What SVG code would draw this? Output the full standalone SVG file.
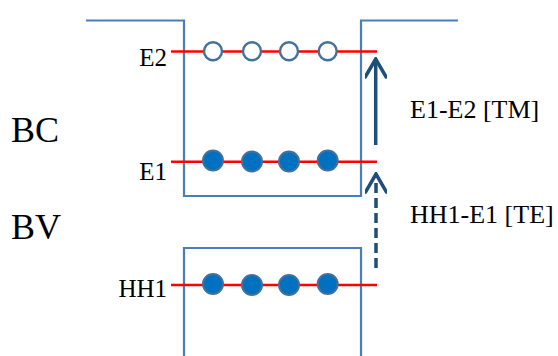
<svg xmlns="http://www.w3.org/2000/svg" width="558" height="356" viewBox="0 0 558 356">
<style>
.band{fill:none;stroke:#4a7ebb;stroke-width:2.2}
.lvl{stroke:#ff0000;stroke-width:2.6}
.open{fill:#ffffff;stroke:#41719c;stroke-width:2.4}
.full{fill:#0070c0;stroke:#41719c;stroke-width:2}
.t{font-family:"Liberation Serif","Times New Roman",serif;fill:#000}
.arr{stroke:#1f4e79;stroke-width:3.5;fill:none}
</style>
<defs>
<marker id="ah" viewBox="0 0 22 22" refX="20" refY="11" markerWidth="22" markerHeight="22" markerUnits="userSpaceOnUse" orient="auto">
<path d="M2,0.5 L20,11 L2,21.5" fill="none" stroke="#1f4e79" stroke-width="3.5" stroke-linecap="round" stroke-linejoin="miter"/>
</marker>
</defs>
<g id="bands">
<path class="band" d="M86,20.5 H184 V196 H361 V20.5 H458"/>
<path class="band" d="M184,356 V248 H361 V356"/>
</g>
<g id="E2">
<line class="lvl" x1="171" y1="51.5" x2="377" y2="51.5"/>
<circle class="open" cx="213" cy="51.3" r="9"/>
<circle class="open" cx="252" cy="51.3" r="9"/>
<circle class="open" cx="289" cy="51.3" r="9"/>
<circle class="open" cx="327.7" cy="51.3" r="9"/>
<text class="t" x="167" y="66" font-size="25" text-anchor="end">E2</text>
</g>
<g id="E1">
<line class="lvl" x1="171" y1="161.7" x2="377" y2="161.7"/>
<circle class="full" cx="213" cy="160.5" r="10"/>
<circle class="full" cx="252" cy="161.5" r="10"/>
<circle class="full" cx="289" cy="161.5" r="10"/>
<circle class="full" cx="327.7" cy="160.5" r="10"/>
<text class="t" x="167" y="180" font-size="25" text-anchor="end">E1</text>
</g>
<g id="HH1">
<line class="lvl" x1="171" y1="285" x2="377" y2="285"/>
<circle class="full" cx="213" cy="284" r="10"/>
<circle class="full" cx="252" cy="285" r="10"/>
<circle class="full" cx="289" cy="285" r="10"/>
<circle class="full" cx="327.7" cy="284" r="10"/>
<text class="t" x="167" y="296.5" font-size="25" text-anchor="end">HH1</text>
</g>
<g id="labels">
<text class="t" x="11" y="142" font-size="36">BC</text>
<text class="t" x="11" y="239" font-size="36">BV</text>
</g>
<g id="connectors">
<line class="arr" x1="375.7" y1="145" x2="375.7" y2="59" marker-end="url(#ah)"/>
<line class="arr" x1="376" y1="268" x2="376" y2="174" stroke-dasharray="10,5" marker-end="url(#ah)"/>
<text class="t" x="410" y="118" font-size="26">E1-E2 [TM]</text>
<text class="t" x="410" y="223" font-size="26">HH1-E1 [TE]</text>
</g>
</svg>
